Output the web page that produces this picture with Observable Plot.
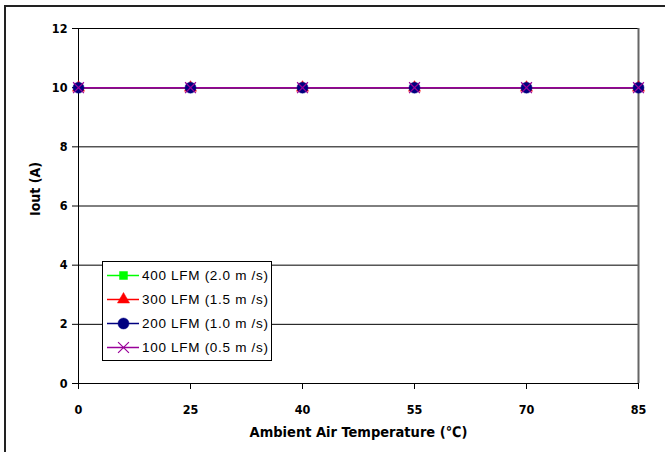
<!DOCTYPE html>
<html>
<head>
<meta charset="utf-8">
<script src="https://cdn.jsdelivr.net/npm/d3@7"></script>
<script src="https://cdn.jsdelivr.net/npm/@observablehq/plot@0.6"></script>
<style>
  html, body { margin: 0; padding: 0; background: #fff; }
  #wrap { position: relative; width: 665px; height: 452px; overflow: hidden; }
  #border { position: absolute; left: 4px; top: 5px; width: 700px; height: 500px; border: 2px solid #222; box-sizing: border-box; pointer-events: none; }
  #legend { position: absolute; left: 102px; top: 261px; width: 170px; height: 100px; border: 1px solid #000; background: #fff; box-sizing: border-box; font-family: "Liberation Sans", Arial, sans-serif; font-size: 13.5px; color: #000; }
  .row { position: absolute; left: 0; height: 24px; display: flex; align-items: center; }
  .row span { margin-left: 3px; white-space: nowrap; letter-spacing: 0.7px; }
</style>
</head>
<body>
<div id="wrap"><div id="border"></div></div>
<script>
const temps = [0, 25, 40, 55, 70, 85];
const seriesNames = ["400 LFM (2.0 m /s)", "300 LFM (1.5 m /s)", "200 LFM (1.0 m /s)", "100 LFM (0.5 m /s)"];
const lfm400 = [10, 10, 10, 10, 10, 10];
const lfm300 = [10, 10, 10, 10, 10, 10];
const lfm200 = [10, 10, 10, 10, 10, 10];
const lfm100 = [10, 10, 10, 10, 10, 10];
const yTicks = [0, 2, 4, 6, 8, 10, 12];
const colors = ["#00ff00", "#ff0000", "#000080", "#990099"];
const symbols = ["square", "triangle", "circle", "times"];
const radii = [4.5, 4.5, 5.5, 5];

const seriesValues = [lfm400, lfm300, lfm200, lfm100];
const rows = [];
seriesValues.forEach((vals, si) => vals.forEach((v, i) => rows.push({series: si, t: String(temps[i]), v})));

const narrow = "'Liberation Sans Narrow', 'DejaVu Sans Condensed', Arial, sans-serif";

const marks = [
  Plot.gridY(yTicks, {stroke: "#000", strokeOpacity: 1, strokeWidth: 1}),
  Plot.ruleX([String(temps[temps.length - 1])], {stroke: "#666", strokeWidth: 2}),
  Plot.ruleX([String(temps[0])], {stroke: "#000", strokeWidth: 1}),
  Plot.ruleY([0], {stroke: "#000", strokeWidth: 1}),
  Plot.axisY(yTicks, {tickSize: 6, tickPadding: 5, fontWeight: "bold", fontSize: 12.5, fontFamily: narrow, label: null, stroke: "#000"}),
  Plot.axisX({tickSize: 6, tickPadding: 16, fontWeight: "bold", fontSize: 12.5, fontFamily: narrow, label: null}),
  Plot.text(["Iout (A)"], {frameAnchor: "left", dx: -43, dy: 10, rotate: -90, fontWeight: "bold", fontSize: 14, fontFamily: narrow, text: d => d}),
  Plot.text(["Ambient Air Temperature (\u2103)"], {frameAnchor: "bottom", dy: 53, fontWeight: "bold", fontSize: 14.5, fontFamily: narrow, text: d => d})
];
seriesValues.forEach((vals, si) => {
  const data = rows.filter(r => r.series === si);
  marks.push(Plot.line(data, {x: "t", y: "v", stroke: colors[si], strokeWidth: 1.5}));
});
seriesValues.forEach((vals, si) => {
  const data = rows.filter(r => r.series === si);
  const filled = symbols[si] !== "times";
  marks.push(Plot.dot(data, {x: "t", y: "v", symbol: symbols[si], r: radii[si],
    fill: filled ? colors[si] : "none", stroke: colors[si], strokeWidth: filled ? 0.5 : 1.2}));
});

const chart = Plot.plot({
  width: 665,
  height: 452,
  marginLeft: 78,
  marginRight: 27,
  marginTop: 28,
  marginBottom: 69,
  style: {background: "transparent", fontFamily: narrow, color: "#000", overflow: "visible"},
  x: {type: "point", domain: temps.map(String), padding: 0},
  y: {domain: [0, 12]},
  marks
});
chart.style.position = "absolute";
chart.style.left = "0px";
chart.style.top = "0px";
const wrap = document.getElementById("wrap");
wrap.appendChild(chart);

// legend
const legend = document.createElement("div");
legend.id = "legend";
seriesNames.forEach((name, si) => {
  const row = document.createElement("div");
  row.className = "row";
  row.style.top = (1 + si * 24) + "px";
  const sw = Plot.plot({
    width: 36, height: 20, margin: 0,
    x: {domain: [0, 1], range: [4, 36], axis: null},
    y: {domain: [0, 1], range: [20, 0], axis: null},
    style: {background: "transparent", overflow: "visible"},
    marks: [
      Plot.ruleY([0.5], {x1: 0, x2: 1, stroke: colors[si], strokeWidth: 1.5}),
      Plot.dot([0.5], {x: 0.5, y: 0.5, symbol: symbols[si], r: radii[si],
        fill: symbols[si] !== "times" ? colors[si] : "none", stroke: colors[si], strokeWidth: symbols[si] !== "times" ? 0.5 : 1.2})
    ]
  });
  row.appendChild(sw);
  const label = document.createElement("span");
  label.textContent = name;
  row.appendChild(label);
  legend.appendChild(row);
});
wrap.appendChild(legend);
</script>
</body>
</html>
